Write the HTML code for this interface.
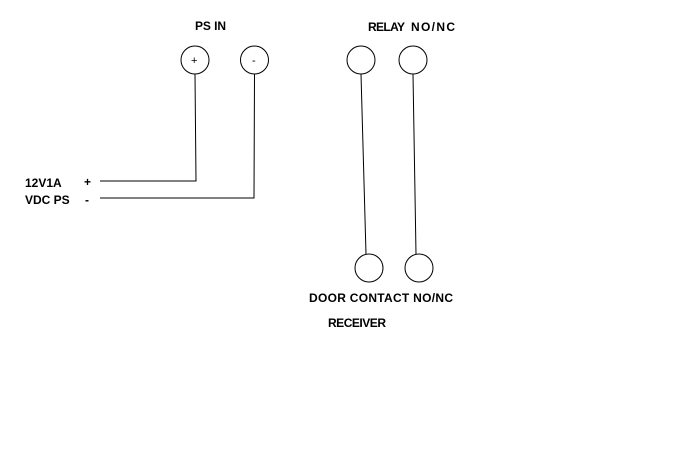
<!DOCTYPE html>
<html><head><style>
body{margin:0;background:#fff;width:697px;height:463px;overflow:hidden}
svg text{font-family:"Liberation Sans",sans-serif;font-weight:bold;font-size:12px;fill:#000}
</style></head><body>
<svg width="697" height="463" viewBox="0 0 697 463" xmlns="http://www.w3.org/2000/svg">
<g fill="none" stroke="#000" stroke-width="1">
<circle cx="195" cy="60" r="14"/>
<circle cx="254.5" cy="60" r="14"/>
<circle cx="361" cy="60" r="14"/>
<circle cx="413" cy="60" r="14"/>
<circle cx="369" cy="268" r="14"/>
<circle cx="419" cy="268" r="14"/>
<polyline points="195,74 196,181 100,181"/>
<polyline points="254.5,74 254,198 100,198"/>
<line x1="361" y1="74" x2="366" y2="254"/>
<line x1="413" y1="74" x2="416" y2="254"/>
</g>
<text x="195" y="30" textLength="31">PS IN</text>
<text x="368" y="31" textLength="37">RELAY</text>
<text x="411" y="31" textLength="44">NO/NC</text>
<text x="191" y="64" style="font-weight:normal;font-size:11px">+</text>
<text x="252" y="64" style="font-weight:normal;font-size:11px">-</text>
<text x="25" y="187">12V1A</text>
<text x="84" y="186">+</text>
<text x="25" y="204">VDC PS</text>
<text x="85" y="204">-</text>
<text x="309" y="302" textLength="144">DOOR CONTACT NO/NC</text>
<text x="328" y="327" textLength="58">RECEIVER</text>
</svg>
</body></html>
